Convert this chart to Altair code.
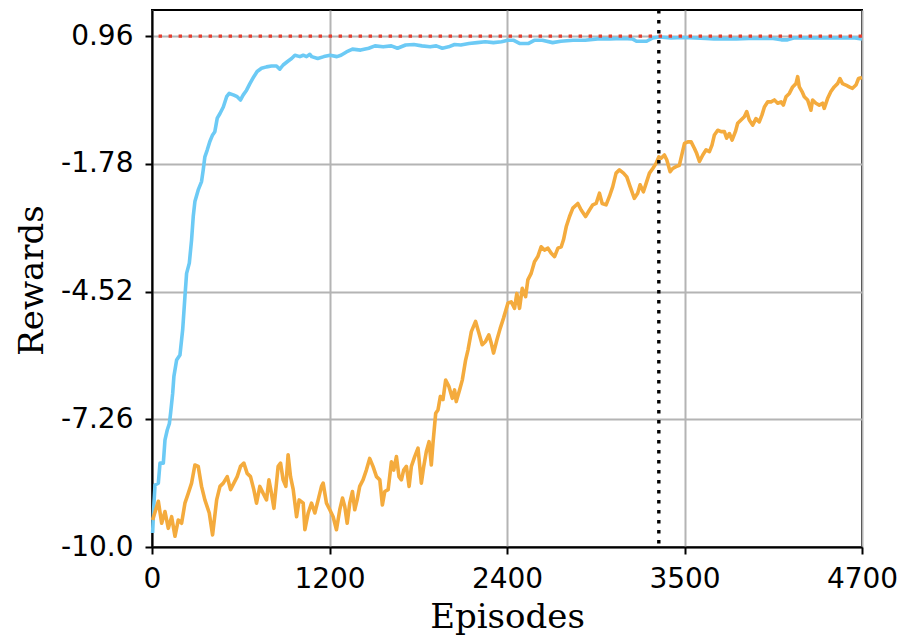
import altair as alt
import pandas as pd

# ---- data ----
blue_x = [4, 13, 20, 42, 53, 75, 86, 101, 115, 123, 137, 145, 163, 185, 203, 218, 229, 247, 262, 273,
          284, 306, 328, 339, 350, 366, 383, 401, 416, 432, 450, 472, 494, 511, 538, 564, 586, 604, 626, 648,
          674, 696, 725, 758, 791, 824, 846, 868, 895, 924, 946, 979, 1001, 1023, 1045, 1057, 1097, 1138, 1179, 1224,
          1251, 1287, 1327, 1381, 1435, 1476, 1530, 1584, 1625, 1679, 1733, 1787, 1841, 1882, 1922, 1963, 2003, 2044, 2098, 2152,
          2206, 2260, 2314, 2355, 2395, 2436, 2490, 2530, 2584, 2652, 2706, 2787, 2868, 2950, 3031, 3112, 3180, 3207, 3274, 3315,
          3355, 3436, 3517, 3598, 3666, 3720, 3788, 3869, 3950, 4031, 4112, 4166, 4207, 4247, 4328, 4410, 4491, 4572, 4653, 4700]
blue_y = [-9.70, -9.06, -8.67, -8.63, -8.20, -8.20, -7.70, -7.49, -7.35, -7.13, -6.70, -6.34, -5.99, -5.88, -5.34, -4.63, -4.13, -3.91, -3.41, -2.91,
          -2.59, -2.34, -2.16, -1.91, -1.63, -1.48, -1.30, -1.16, -1.09, -0.80, -0.70, -0.56, -0.34, -0.27, -0.30, -0.34, -0.41, -0.30, -0.20, -0.06,
          0.09, 0.20, 0.27, 0.30, 0.32, 0.32, 0.25, 0.34, 0.41, 0.48, 0.55, 0.52, 0.55, 0.52, 0.57, 0.52, 0.48, 0.52, 0.55, 0.52,
          0.55, 0.62, 0.68, 0.66, 0.70, 0.75, 0.73, 0.75, 0.70, 0.77, 0.78, 0.75, 0.73, 0.75, 0.70, 0.73, 0.78, 0.77, 0.80, 0.82,
          0.84, 0.82, 0.84, 0.87, 0.87, 0.80, 0.80, 0.87, 0.87, 0.82, 0.85, 0.87, 0.87, 0.90, 0.90, 0.91, 0.90, 0.85, 0.85, 0.92,
          0.94, 0.92, 0.93, 0.92, 0.91, 0.90, 0.90, 0.90, 0.91, 0.91, 0.91, 0.88, 0.88, 0.92, 0.92, 0.92, 0.92, 0.92, 0.92, 0.90]

orange_x = [4, 42, 64, 86, 108, 130, 152, 174, 196, 218, 240, 262, 284, 306, 328, 350, 379, 401, 428, 450,
            472, 498, 520, 542, 564, 586, 608, 630, 652, 674, 692, 714, 736, 758, 774, 791, 807, 824, 835, 851,
            868, 886, 901, 917, 935, 957, 974, 1001, 1012, 1034, 1056, 1078, 1100, 1122, 1133, 1155, 1177, 1199, 1221, 1243,
            1261, 1276, 1292, 1309, 1327, 1342, 1358, 1375, 1397, 1419, 1441, 1463, 1486, 1508, 1525, 1541, 1563, 1585, 1600, 1618,
            1635, 1651, 1666, 1684, 1702, 1717, 1739, 1761, 1783, 1799, 1816, 1834, 1849, 1860, 1878, 1893, 1909, 1926, 1944, 1966,
            1988, 2003, 2014, 2036, 2054, 2076, 2092, 2114, 2142, 2164, 2186, 2208, 2230, 2246, 2261, 2283, 2305, 2327, 2356, 2378,
            2400, 2415, 2433, 2451, 2473, 2488, 2510, 2532, 2554, 2576, 2598, 2621, 2643, 2665, 2687, 2709, 2724, 2742, 2764, 2786,
            2819, 2841, 2870, 2896, 2918, 2940, 2962, 2980, 3006, 3028, 3050, 3072, 3094, 3121, 3143, 3165, 3193, 3215, 3231, 3253,
            3271, 3293, 3315, 3337, 3355, 3370, 3392, 3408, 3430, 3447, 3469, 3491, 3509, 3525, 3547, 3569, 3591, 3606, 3624, 3646,
            3668, 3690, 3707, 3723, 3745, 3767, 3789, 3804, 3822, 3840, 3862, 3877, 3899, 3921, 3937, 3954, 3976, 3998, 4020, 4038,
            4054, 4076, 4098, 4120, 4142, 4164, 4179, 4197, 4219, 4241, 4263, 4274, 4285, 4303, 4318, 4340, 4362, 4373, 4395, 4417,
            4439, 4450, 4472, 4494, 4516, 4538, 4554, 4571, 4593, 4615, 4637, 4660, 4677, 4700]
orange_y = [-9.42, -9.02, -9.49, -9.24, -9.60, -9.35, -9.77, -9.42, -9.49, -9.06, -8.85, -8.63, -8.24, -8.27, -8.70, -8.99, -9.27, -9.74, -8.99, -8.70,
            -8.63, -8.49, -8.77, -8.63, -8.49, -8.27, -8.20, -8.42, -8.49, -8.77, -9.06, -8.70, -8.85, -8.99, -8.56, -8.85, -9.17, -8.63, -8.27, -8.20,
            -8.56, -8.70, -8.02, -8.49, -8.77, -9.35, -8.99, -9.06, -9.63, -9.27, -9.06, -9.27, -8.99, -8.70, -8.63, -9.06, -9.20, -9.35, -9.63, -9.20,
            -8.95, -9.13, -9.49, -9.06, -8.81, -9.20, -8.99, -8.70, -8.56, -8.35, -8.10, -8.27, -8.49, -8.56, -9.10, -8.81, -8.77, -8.17, -8.35, -8.06,
            -8.49, -8.56, -8.35, -8.27, -8.70, -8.27, -8.06, -7.88, -8.63, -8.27, -7.95, -7.74, -8.24, -7.77, -7.13, -7.06, -6.77, -6.84, -6.42, -6.56,
            -6.81, -6.63, -6.88, -6.63, -6.42, -5.99, -5.77, -5.38, -5.16, -5.41, -5.66, -5.59, -5.45, -5.63, -5.84, -5.56, -5.31, -5.09, -4.77, -4.74,
            -4.88, -4.56, -4.88, -4.45, -4.63, -4.27, -4.13, -3.88, -3.77, -3.56, -3.63, -3.59, -3.70, -3.77, -3.59, -3.56, -3.41, -3.13, -2.91, -2.73,
            -2.63, -2.77, -2.91, -2.77, -2.66, -2.63, -2.41, -2.63, -2.66, -2.48, -2.27, -1.98, -1.91, -1.98, -2.06, -2.27, -2.52, -2.41, -2.23, -2.38,
            -2.20, -1.98, -1.88, -1.77, -1.63, -1.66, -1.59, -1.70, -1.95, -1.88, -1.84, -1.81, -1.56, -1.34, -1.31, -1.31, -1.45, -1.56, -1.73, -1.59,
            -1.48, -1.52, -1.38, -1.16, -1.06, -1.09, -1.09, -1.23, -1.13, -1.27, -1.09, -0.91, -0.84, -0.77, -0.66, -0.84, -0.95, -0.81, -0.88, -0.73,
            -0.56, -0.45, -0.45, -0.41, -0.48, -0.45, -0.52, -0.34, -0.27, -0.13, -0.06, 0.09, -0.13, -0.23, -0.34, -0.41, -0.63, -0.41, -0.48, -0.52,
            -0.48, -0.59, -0.38, -0.23, -0.13, -0.06, 0.05, -0.06, -0.09, -0.13, -0.16, -0.09, 0.05, 0.07]

ref_level = 0.96
switch_episode = 3355

x_tick_values = [0, 1175, 2350, 3525, 4700]
x_tick_labels = ["0", "1200", "2400", "3500", "4700"]
y_tick_values = [-10.0, -7.26, -4.52, -1.78, 0.96]
y_tick_labels = ["-10.0", "-7.26", "-4.52", "-1.78", "0.96"]

x_domain = [0, 4700]
y_domain = [-10.0, 1.52]

# ---- build tables ----
df = pd.concat([
    pd.DataFrame({"episode": blue_x, "reward": blue_y, "series": "blue"}),
    pd.DataFrame({"episode": orange_x, "reward": orange_y, "series": "orange"}),
])

def label_expr(values, labels):
    parts = " : ".join(f"datum.value == {v} ? '{l}'" for v, l in zip(values, labels))
    return parts + " : ''"

x_enc = alt.X("episode:Q",
              scale=alt.Scale(domain=x_domain, nice=False, zero=False),
              axis=alt.Axis(values=x_tick_values, labelExpr=label_expr(x_tick_values, x_tick_labels),
                            title="Episodes", titleY=80, titleBaseline="alphabetic",
                            labelPadding=11, labelFlush=False, labelOverlap=False, labelBound=False))
y_enc = alt.Y("reward:Q",
              scale=alt.Scale(domain=y_domain, nice=False, zero=False),
              axis=alt.Axis(values=y_tick_values, labelExpr=label_expr(y_tick_values, y_tick_labels),
                            title="Rewards", titleX=-110, titleY=270, titleAngle=-90,
                            titleBaseline="alphabetic", titleAlign="center",
                            labelPadding=12, labelFlush=False, labelOverlap=False, labelBound=False))

blue = alt.Chart(df[df.series == "blue"]).mark_line(
    color="#6ccaf5", strokeWidth=3.6, strokeJoin="round").encode(x=x_enc, y=y_enc)
orange = alt.Chart(df[df.series == "orange"]).mark_line(
    color="#f4ab3d", strokeWidth=3.6, strokeJoin="round").encode(x=x_enc, y=y_enc)

red = alt.Chart().mark_rule(color="#e63c2e", strokeWidth=3.4, strokeDash=[3.4, 6.6]).encode(
    y=alt.datum(ref_level))
black = alt.Chart().mark_rule(color="black", strokeWidth=3.4, strokeDash=[3.4, 6.6]).encode(
    x=alt.datum(switch_episode))

chart = alt.layer(blue, orange, red, black).properties(
    width=710, height=537,
    autosize=alt.AutoSizeParams(type="none"),
    padding={"left": 152, "top": 10, "right": 40, "bottom": 90},
    background="white",
).configure_view(
    stroke="black", strokeWidth=2
).configure_axis(
    domainColor="black", domainWidth=2,
    tickColor="black", tickWidth=2, tickSize=7,
    gridColor="#b4b4b4", gridWidth=2,
    labelFont="DejaVu Sans", labelFontSize=28, labelColor="black",
    titleFont="DejaVu Serif", titleFontSize=34, titleFontWeight="normal", titleColor="black",
)

chart.save("out.html", embed_options={"renderer": "svg", "actions": False})
